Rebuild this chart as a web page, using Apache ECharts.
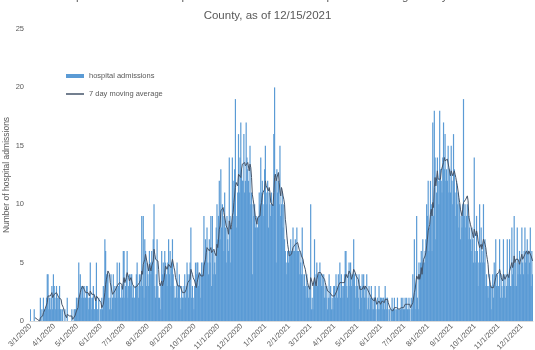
<!DOCTYPE html>
<html><head><meta charset="utf-8">
<script src="https://cdn.jsdelivr.net/npm/echarts@6/dist/echarts.min.js"></script>
<style>html,body{margin:0;padding:0;background:#fff}#c{width:535px;height:350px}</style>
</head><body><div id="c"></div>
<script>
// Daily hospital admissions (one array per month)
const mar20 = [1,0,0,0,0,1,0,0,0,0,0,0,0,2,0,1,0,2,1,1,1,2,4,4,1,2,1,2,3,1,4];
const apr20 = [3,2,1,3,2,1,2,3,1,1,0,1,0,0,1,0,0,2,0,0,0,0,0,1,0,0,1,1,1,2];
const may20 = [1,2,5,2,4,3,2,3,2,3,2,2,3,3,2,1,2,5,2,1,2,3,1,1,2,5,1,1,2,0,1];
const jun20 = [1,2,1,3,2,7,6,4,4,4,2,1,2,4,1,2,4,2,3,2,3,5,2,3,5,2,2,3,2,6];
const jul20 = [6,2,3,4,6,2,3,4,3,4,4,2,3,2,2,3,4,5,3,2,4,3,4,9,3,9,2,7,6,3,5];
const aug20 = [4,3,6,5,4,6,5,7,10,3,2,4,7,3,2,2,1,3,6,4,5,4,6,5,4,3,5,7,4,6,3];
const sep20 = [5,7,4,3,2,2,3,5,2,3,4,2,1,3,2,2,3,4,2,3,5,4,2,4,5,8,2,3,2,1];
const oct20 = [3,5,4,5,5,3,4,4,2,5,4,5,9,5,7,6,8,5,4,7,5,9,3,9,4,6,5,4,8,10,7];
const nov20 = [9,12,7,13,8,10,9,6,11,8,5,9,7,6,14,9,5,8,14,9,12,13,19,8,9,11,16,11,14,17];
const dec20 = [13,12,12,16,11,12,17,14,13,12,11,15,10,11,4,10,9,10,8,9,8,8,9,11,10,14,11,12,10,9,13];
const jan21 = [15,11,10,12,8,11,10,9,11,10,10,16,20,12,5,13,11,12,10,15,9,10,11,8,10,7,6,5,4,6,5];
const feb21 = [6,6,7,6,6,8,6,6,7,6,8,6,6,4,6,5,4,8,4,3,4,3,2,4,3,2,3,2];
const mar21 = [10,1,2,1,3,7,3,4,5,3,4,4,5,4,3,4,3,4,2,3,2,3,1,2,4,2,3,1,2,1,3];
const apr21 = [3,2,4,3,2,4,3,5,2,4,3,2,3,4,6,6,3,2,4,5,3,5,3,4,4,7,4,2,3,4];
const may21 = [3,2,4,1,3,2,4,3,4,2,3,2,4,1,2,3,1,2,3,1,2,1,2,3,1,0,2,1,3,1,2];
const jun21 = [2,1,2,2,1,3,2,1,2,0,1,1,0,1,2,1,1,2,1,0,1,2,1,0,1,1,2,1,2,1];
const jul21 = [1,2,1,2,1,1,2,1,0,2,1,4,2,7,3,1,9,2,1,5,4,5,6,5,7,5,5,6,7,10,9];
const aug21 = [12,6,8,12,10,6,17,9,18,14,7,11,14,12,10,18,13,12,11,14,17,13,16,12,13,12,15,11,13,11,15];
const sep21 = [12,10,16,13,11,9,12,10,11,8,10,7,9,8,10,19,9,10,8,9,10,7,9,8,7,6,8,7,5,14];
const oct21 = [6,5,9,6,3,5,10,5,8,6,5,10,5,7,3,4,3,2,3,4,3,1,3,4,2,5,4,7,3,4,3];
const nov21 = [3,7,2,4,3,2,7,3,4,2,3,7,3,4,7,3,3,8,4,5,9,3,5,3,8,4,5,6,4,5];
const dec21 = [8,5,4,6,8,5,6,7,4,6,5,8,3,6,4];

const yTicks = [0, 5, 10, 15, 20, 25];
const seriesNames = ['hospital admissions', '7 day moving average'];
const titleText = 'Epidemic curve of hospitalized COVID-19 cases reported in Lexington-Fayette\nCounty, as of 12/15/2021';
const yAxisTitle = 'Number of hospital admissions';

const admissions = [].concat(mar20, apr20, may20, jun20, jul20, aug20, sep20, oct20, nov20, dec20,
  jan21, feb21, mar21, apr21, may21, jun21, jul21, aug21, sep21, oct21, nov21, dec21);

// category labels: one per day starting 3/1/2020
const dates = [];
for (let i = 0; i < admissions.length; i++) {
  const d = new Date(Date.UTC(2020, 2, 1 + i));
  dates.push((d.getUTCMonth() + 1) + '/' + d.getUTCDate() + '/' + d.getUTCFullYear());
}
// trailing 7-day moving average of the daily values (as the chart's trend line)
const movingAvg = admissions.map((v, i) => {
  if (i < 6) return null;
  let s = 0; for (let k = i - 6; k <= i; k++) s += admissions[k];
  return +(s / 7).toFixed(3);
});

const gray = '#595959';
const font = "'Liberation Sans', Arial, sans-serif";
const chart = echarts.init(document.getElementById('c'), null, {renderer: 'canvas'});
chart.setOption({
  animation: false,
  backgroundColor: '#fff',
  title: {
    text: titleText, left: 'center', top: -12.5, padding: 0,
    textStyle: {fontSize: 11.5, fontWeight: 'normal', color: gray, fontFamily: font, lineHeight: 19}
  },
  legend: {
    orient: 'vertical', left: 66, top: 71, padding: 0, itemGap: 8, itemWidth: 18, itemHeight: 4,
    textStyle: {fontSize: 7.5, color: gray, fontFamily: font, lineHeight: 10},
    data: [
      {name: seriesNames[0], icon: 'rect'},
      {name: seriesNames[1], icon: 'path://M0,0 L36,0 L36,3 L0,3 Z'}
    ]
  },
  grid: {left: 30, right: 2, top: 29, bottom: 29, containLabel: false, outerBoundsMode: 'none'},
  xAxis: {
    type: 'category', data: dates, boundaryGap: true,
    axisLine: {show: true, lineStyle: {color: '#D9D9D9', width: 1}},
    axisTick: {show: false},
    axisLabel: {
      rotate: 45, margin: 4, fontSize: 7.5, color: gray, fontFamily: font,
      interval: (idx, val) => val.split('/')[1] === '1'
    }
  },
  yAxis: {
    type: 'value', min: yTicks[0], max: yTicks[yTicks.length - 1], interval: 5,
    name: yAxisTitle, nameLocation: 'middle', nameGap: 19, nameMoveOverlap: false,
    nameTextStyle: {fontSize: 8.5, color: gray, fontFamily: font},
    axisLine: {show: false}, axisTick: {show: false}, splitLine: {show: false},
    axisLabel: {fontSize: 7.5, color: gray, fontFamily: font, margin: 6}
  },
  series: [
    {
      name: seriesNames[0], type: 'bar', data: admissions, barWidth: 1.2,
      itemStyle: {color: '#5B9BD5'}
    },
    {
      name: seriesNames[1], type: 'line', data: movingAvg, symbol: 'none', connectNulls: false,
      lineStyle: {color: '#44546A', width: 1}, itemStyle: {color: '#44546A'}
    }
  ]
});
</script>
</body></html>
